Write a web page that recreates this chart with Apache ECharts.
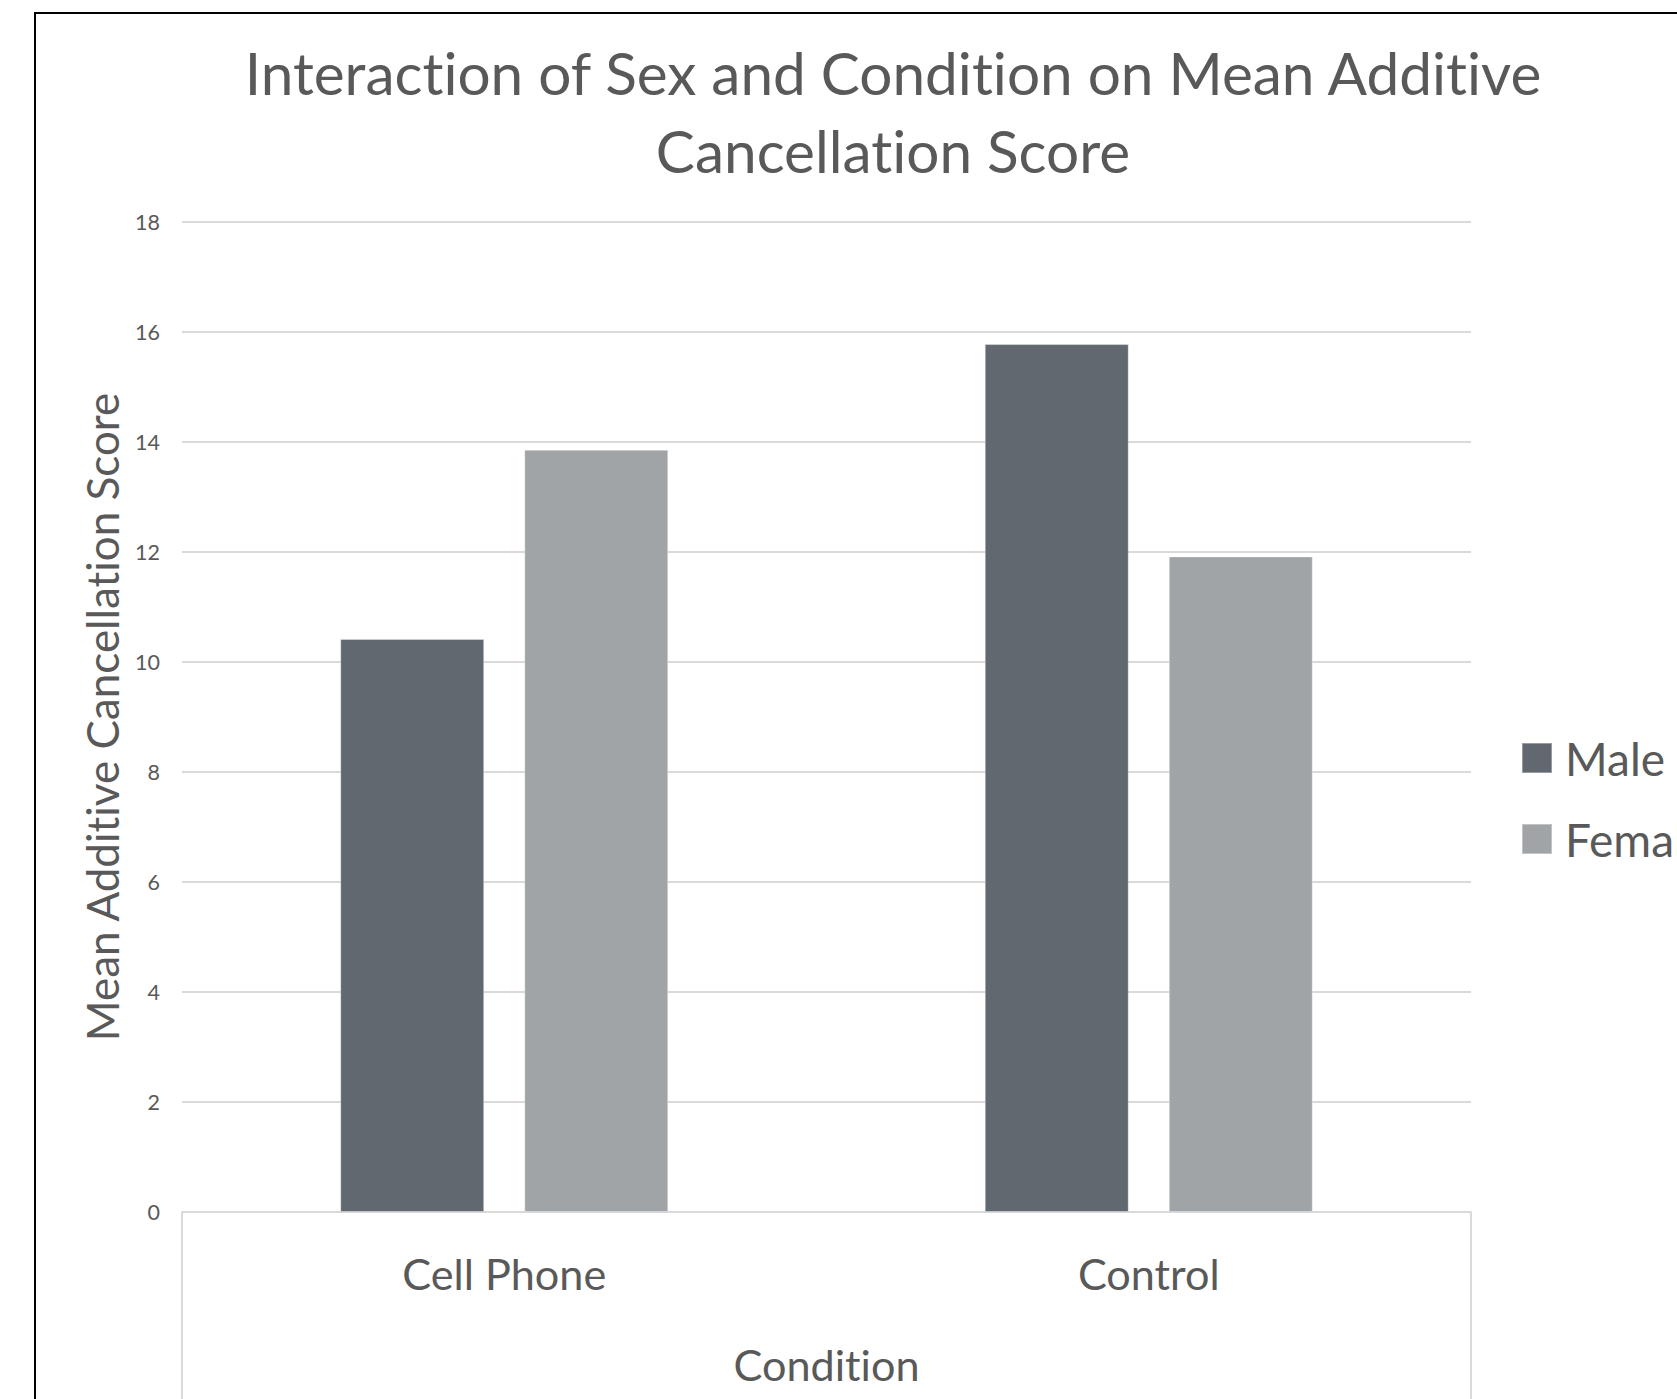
<!DOCTYPE html>
<html>
<head>
<meta charset="utf-8">
<script src="https://cdn.jsdelivr.net/npm/echarts@6/dist/echarts.min.js"></script>
<style>
  html, body { margin: 0; padding: 0; background: #ffffff; }
  #chart { width: 1677px; height: 1399px; }
  #chart text { font-variant-ligatures: none; font-feature-settings: "liga" 0, "clig" 0; }
</style>
</head>
<body>
<div id="chart"></div>
<script>
// Chart text
const titleLines = ['Interaction of Sex and Condition on Mean Additive', 'Cancellation Score'];
const yAxisTitle = 'Mean Additive Cancellation Score';
const xAxisTitle = 'Condition';

// Categories and series
const conditions = ['Cell Phone', 'Control'];
const seriesNames = ['Male', 'Female'];
const maleScores = [10.42, 15.78];
const femaleScores = [13.86, 11.92];

// Value axis ticks: 0, 2, ... 18
const yMin = 0;
const yMax = 18;
const yStep = 2;

const FONT = 'Lato';
const TEXT = '#595959';
const LINE = '#d9d9d9';

// Pick a font size so a string spans the wanted width
function fitSize(text, width) {
  const ctx = document.createElement('canvas').getContext('2d');
  ctx.font = '100px ' + FONT;
  return Math.round(100 * width / ctx.measureText(text).width * 10) / 10;
}

const titleSize = fitSize(titleLines[0], 1303);
const yNameSize = fitSize(yAxisTitle, 651);
const catSize = fitSize('Cell Phone', 204);
const tickSize = 21.5;

const chart = echarts.init(document.getElementById('chart'), null, { renderer: 'svg' });

chart.setOption({
  backgroundColor: '#ffffff',
  animation: false,
  title: {
    text: titleLines.join('\n'),
    left: 893,
    textAlign: 'center',
    top: 33,
    padding: 0,
    textStyle: {
      fontFamily: FONT,
      fontWeight: 'normal',
      fontSize: titleSize,
      lineHeight: 78,
      color: TEXT
    }
  },
  legend: {
    orient: 'vertical',
    left: 1521,
    top: 735,
    padding: 0,
    itemWidth: 30,
    itemHeight: 30,
    itemGap: 35,
    icon: 'rect',
    data: seriesNames,
    textStyle: {
      fontFamily: FONT,
      fontSize: 46,
      lineHeight: 46,
      color: TEXT,
      padding: [0, 0, 0, 8]
    }
  },
  grid: {
    left: 182,
    right: 206,
    top: 222,
    bottom: 187
  },
  xAxis: {
    type: 'category',
    data: conditions,
    boundaryGap: true,
    name: xAxisTitle,
    nameLocation: 'middle',
    nameGap: 130,
    nameTextStyle: {
      fontFamily: FONT,
      fontSize: catSize,
      lineHeight: catSize,
      color: TEXT
    },
    axisLine: { show: true, lineStyle: { color: LINE, width: 2 } },
    axisTick: {
      show: true,
      interval: function (idx) { return idx === 0; },
      length: 220,
      lineStyle: { color: LINE, width: 2 }
    },
    axisLabel: {
      interval: 0,
      margin: 39,
      fontFamily: FONT,
      fontSize: catSize,
      lineHeight: catSize,
      color: TEXT
    },
    splitLine: { show: false }
  },
  yAxis: {
    type: 'value',
    min: yMin,
    max: yMax,
    interval: yStep,
    name: yAxisTitle,
    nameLocation: 'middle',
    nameRotate: 90,
    nameGap: 56,
    nameTextStyle: {
      fontFamily: FONT,
      fontSize: yNameSize,
      lineHeight: yNameSize,
      color: TEXT
    },
    axisLine: { show: false },
    axisTick: { show: false },
    axisLabel: {
      margin: 22,
      fontFamily: FONT,
      fontSize: tickSize,
      color: TEXT
    },
    splitLine: { show: true, lineStyle: { color: LINE, width: 2 } }
  },
  series: [
    {
      name: seriesNames[0],
      type: 'bar',
      data: maleScores,
      barWidth: 144,
      barGap: '27.8%',
      itemStyle: { color: '#626870', borderColor: 'rgba(255,255,255,0.35)', borderWidth: 1 }
    },
    {
      name: seriesNames[1],
      type: 'bar',
      data: femaleScores,
      barWidth: 144,
      barGap: '27.8%',
      itemStyle: { color: '#a1a4a7', borderColor: 'rgba(255,255,255,0.35)', borderWidth: 1 }
    }
  ],
  graphic: [
    {
      // outer frame of the chart area
      type: 'rect',
      silent: true,
      shape: { x: 35, y: 13, width: 2000, height: 2000 },
      style: { fill: null, stroke: '#000000', lineWidth: 2 }
    }
  ]
});
</script>
</body>
</html>
